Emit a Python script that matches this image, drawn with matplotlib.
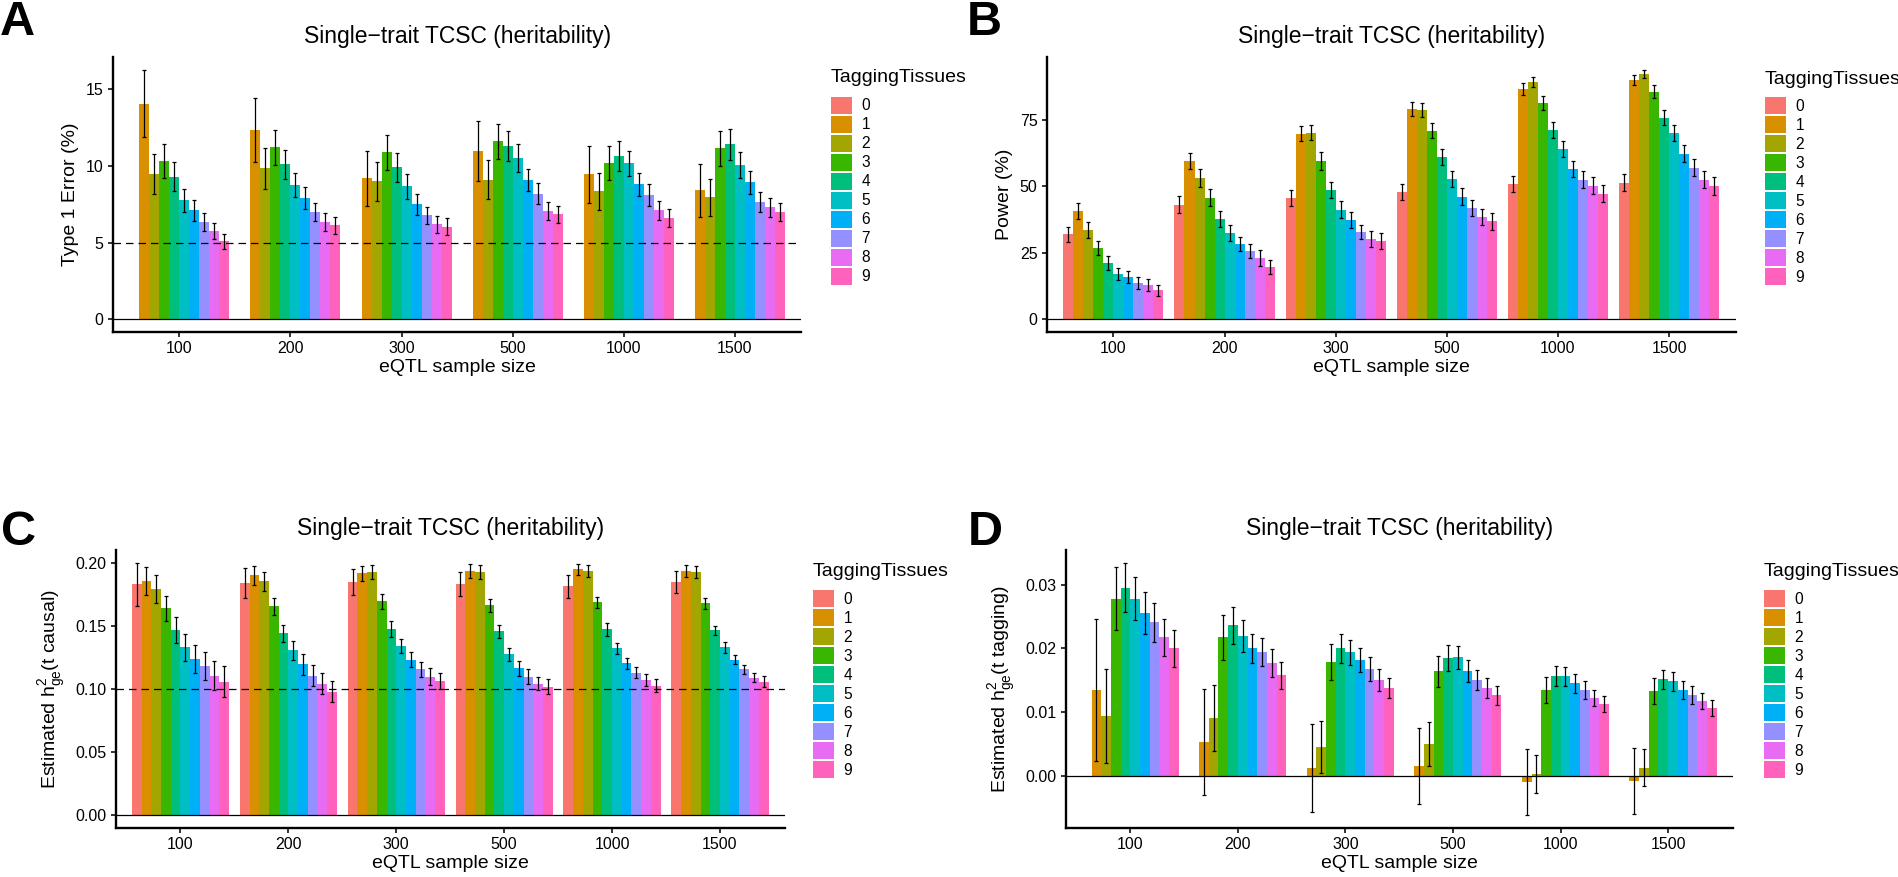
import matplotlib
matplotlib.use("Agg")
import matplotlib.pyplot as plt
import numpy as np
from matplotlib.patches import Patch
from matplotlib.ticker import FormatStrFormatter

plt.rcParams["font.family"] = ["Liberation Sans", "DejaVu Sans"]

sample_sizes = ["100", "200", "300", "500", "1000", "1500"]
tissues = ["0", "1", "2", "3", "4", "5", "6", "7", "8", "9"]
palette = ["#F8766D", "#D89000", "#A3A500", "#39B600", "#00BF7D",
           "#00BFC4", "#00B0F6", "#9590FF", "#E76BF3", "#FF62BC"]
nan = float("nan")

# rows: tagging tissues 0..9, columns: eQTL sample size
type1_error = [
    [nan, nan, nan, nan, nan, nan],
    [14.07, 12.33, 9.20, 10.96, 9.46, 8.41],
    [9.46, 9.85, 9.00, 9.10, 8.35, 7.96],
    [10.30, 11.22, 10.90, 11.60, 10.17, 11.15],
    [9.30, 10.10, 9.90, 11.28, 10.63, 11.41],
    [7.76, 8.74, 8.67, 10.50, 10.17, 10.04],
    [7.10, 7.90, 7.50, 9.07, 8.80, 8.93],
    [6.33, 6.98, 6.78, 8.20, 8.09, 7.63],
    [5.74, 6.33, 6.20, 7.04, 7.10, 7.30],
    [5.09, 6.13, 6.04, 6.85, 6.59, 6.98],
]
type1_error_se = [
    [nan, nan, nan, nan, nan, nan],
    [2.2, 2.1, 1.8, 1.96, 1.85, 1.74],
    [1.3, 1.33, 1.27, 1.28, 1.2, 1.2],
    [1.1, 1.15, 1.14, 1.12, 1.12, 1.15],
    [0.93, 0.95, 0.93, 0.98, 0.99, 1.02],
    [0.75, 0.78, 0.83, 0.9, 0.82, 0.84],
    [0.68, 0.72, 0.7, 0.7, 0.75, 0.73],
    [0.6, 0.6, 0.57, 0.68, 0.7, 0.66],
    [0.52, 0.57, 0.56, 0.6, 0.62, 0.6],
    [0.5, 0.55, 0.54, 0.55, 0.57, 0.58],
]

power = [
    [31.9, 43.0, 45.6, 47.9, 50.9, 51.3],
    [40.7, 59.5, 69.7, 79.1, 86.7, 90.1],
    [33.5, 53.1, 70.1, 78.8, 89.3, 92.3],
    [26.8, 45.6, 59.5, 70.9, 81.4, 85.6],
    [21.1, 37.6, 48.5, 61.1, 71.2, 75.8],
    [17.0, 32.4, 41.1, 52.8, 64.1, 70.1],
    [15.8, 28.3, 37.3, 46.0, 56.5, 62.2],
    [13.6, 25.6, 32.8, 41.8, 52.4, 56.9],
    [12.8, 23.0, 30.2, 38.4, 50.1, 52.4],
    [10.9, 19.6, 29.4, 36.9, 47.1, 50.1],
]
power_se = [
    [2.9, 3.2, 3.0, 3.1, 3.0, 3.2],
    [3.1, 3.0, 2.8, 2.6, 2.2, 1.9],
    [3.1, 3.3, 2.8, 2.6, 1.9, 1.5],
    [2.8, 3.2, 3.2, 2.7, 2.6, 2.45],
    [2.6, 3.1, 3.0, 2.95, 3.0, 2.85],
    [2.3, 2.9, 3.2, 3.0, 3.0, 2.9],
    [2.3, 2.8, 3.1, 3.2, 3.0, 3.2],
    [2.2, 2.6, 2.8, 3.0, 3.2, 3.2],
    [2.2, 2.9, 3.1, 3.1, 3.2, 3.2],
    [2.0, 2.7, 3.0, 3.2, 3.2, 3.4],
]

h2_causal = [
    [0.1830, 0.1838, 0.1846, 0.1830, 0.1814, 0.1846],
    [0.1854, 0.1900, 0.1918, 0.1934, 0.1950, 0.1934],
    [0.1790, 0.1854, 0.1926, 0.1926, 0.1934, 0.1926],
    [0.1640, 0.1655, 0.1695, 0.1663, 0.1687, 0.1679],
    [0.1470, 0.1440, 0.1472, 0.1456, 0.1472, 0.1464],
    [0.1330, 0.1305, 0.1337, 0.1273, 0.1321, 0.1329],
    [0.1240, 0.1194, 0.1233, 0.1162, 0.1202, 0.1233],
    [0.1178, 0.1106, 0.1154, 0.1098, 0.1130, 0.1154],
    [0.1106, 0.1042, 0.1098, 0.1042, 0.1074, 0.1090],
    [0.1058, 0.0979, 0.1066, 0.1019, 0.1027, 0.1058],
]
h2_causal_se = [
    [0.0171, 0.0119, 0.0103, 0.0095, 0.0090, 0.0085],
    [0.0110, 0.0074, 0.0060, 0.0054, 0.0044, 0.0045],
    [0.0109, 0.0076, 0.0058, 0.0058, 0.0045, 0.0045],
    [0.0100, 0.0068, 0.0060, 0.0052, 0.0044, 0.0044],
    [0.0103, 0.0069, 0.0064, 0.0052, 0.0049, 0.0037],
    [0.0107, 0.0074, 0.0056, 0.0050, 0.0042, 0.0041],
    [0.0111, 0.0080, 0.0057, 0.0057, 0.0046, 0.0037],
    [0.0111, 0.0082, 0.0060, 0.0056, 0.0046, 0.0038],
    [0.0115, 0.0082, 0.0066, 0.0052, 0.0048, 0.0038],
    [0.0122, 0.0084, 0.0064, 0.0056, 0.0048, 0.0042],
]

h2_tagging = [
    [nan, nan, nan, nan, nan, nan],
    [0.01344, 0.00531, 0.00125, 0.00156, -0.00094, -0.00078],
    [0.00938, 0.00906, 0.00453, 0.00500, 0.00031, 0.00125],
    [0.02780, 0.02172, 0.01781, 0.01641, 0.01344, 0.01328],
    [0.02953, 0.02359, 0.02000, 0.01844, 0.01563, 0.01516],
    [0.02780, 0.02188, 0.01938, 0.01859, 0.01563, 0.01484],
    [0.02547, 0.02000, 0.01813, 0.01641, 0.01453, 0.01344],
    [0.02406, 0.01938, 0.01672, 0.01500, 0.01344, 0.01266],
    [0.02172, 0.01766, 0.01500, 0.01375, 0.01219, 0.01172],
    [0.02000, 0.01578, 0.01375, 0.01266, 0.01125, 0.01063],
]
h2_tagging_se = [
    [nan, nan, nan, nan, nan, nan],
    [0.0111, 0.0083, 0.0069, 0.0059, 0.0052, 0.0052],
    [0.0074, 0.0052, 0.0041, 0.0034, 0.0030, 0.0029],
    [0.0050, 0.0035, 0.0028, 0.0024, 0.0020, 0.0020],
    [0.0039, 0.0029, 0.0023, 0.0020, 0.0016, 0.0015],
    [0.0034, 0.0025, 0.0020, 0.0018, 0.0015, 0.0015],
    [0.0033, 0.0023, 0.0019, 0.0017, 0.0015, 0.0014],
    [0.0030, 0.0022, 0.0019, 0.0016, 0.0014, 0.0014],
    [0.0029, 0.0022, 0.0017, 0.0016, 0.0012, 0.0012],
    [0.0029, 0.0021, 0.0016, 0.0015, 0.0013, 0.0012],
]

W, H = 1899, 877
TITLE = "Single\u2212trait TCSC (heritability)"


def px_rect(left, top, right, bottom):
    return [left / W, 1 - bottom / H, (right - left) / W, (bottom - top) / H]


def bar_panel(fig, rect, means, errs, ylabel, yticks, fmt, ref=None):
    ax = fig.add_axes(rect)
    means = np.array(means, dtype=float)
    errs = np.array(errs, dtype=float)
    cats = np.arange(1, len(sample_sizes) + 1)
    width = 0.9 / len(tissues)
    for k in range(len(tissues)):
        if np.all(np.isnan(means[k])):
            continue
        x = cats + (k - (len(tissues) - 1) / 2) * width
        ax.bar(x, means[k], width=width, color=palette[k], linewidth=0)
        ax.errorbar(x, means[k], yerr=errs[k], fmt="none", ecolor="black",
                    elinewidth=0.9, capsize=1.4, capthick=0.9)
    ax.axhline(0, color="black", lw=0.9)
    if ref is not None:
        ax.axhline(ref, color="black", lw=0.9, linestyle=(0, (6, 4)))
    lo = min(0, np.nanmin(means - errs))
    hi = np.nanmax(means + errs)
    span = hi - lo
    ax.set_ylim(lo - 0.05 * span, hi + 0.05 * span)
    ax.set_xlim(0.4, len(sample_sizes) + 0.6)
    ax.set_xticks(cats, sample_sizes)
    ax.set_yticks(yticks)
    ax.yaxis.set_major_formatter(FormatStrFormatter(fmt))
    for side in ("top", "right"):
        ax.spines[side].set_visible(False)
    for side in ("left", "bottom"):
        ax.spines[side].set_linewidth(1.7)
    ax.tick_params(length=3.8, width=1.4, color="#333333", labelsize=11.5, pad=2.9)
    ax.set_xlabel("eQTL sample size", fontsize=14, labelpad=2)
    ax.set_ylabel(ylabel, fontsize=14, labelpad=5)
    ax.set_title(TITLE, fontsize=16.5, pad=10.5)
    return ax


def tissue_legend(fig, key_left, key_top, title_y):
    handles = [Patch(facecolor=c, edgecolor="none") for c in palette]
    fig.legend(handles, tissues, loc="upper left",
               bbox_to_anchor=(key_left / W, 1 - key_top / H),
               frameon=False, fontsize=11.2, handlelength=1.37, handleheight=1.31,
               labelspacing=0.125, handletextpad=0.6, borderpad=0, borderaxespad=0)
    fig.text(key_left / W, 1 - title_y / H, "TaggingTissues", fontsize=14, va="center")


fig = plt.figure(figsize=(W / 100, H / 100), dpi=100)

bar_panel(fig, px_rect(112.7, 57.3, 801.5, 331.7), type1_error, type1_error_se,
          "Type 1 Error (%)", [0, 5, 10, 15], "%g", ref=5)
bar_panel(fig, px_rect(1046.7, 57.3, 1735.7, 331.7), power, power_se,
          "Power (%)", [0, 25, 50, 75], "%g")
bar_panel(fig, px_rect(115.7, 550, 784.7, 827.7), h2_causal, h2_causal_se,
          r"Estimated h$_{\mathregular{ge}}^{\mathregular{2}}$(t causal)",
          [0, 0.05, 0.10, 0.15, 0.20], "%.2f", ref=0.1)
bar_panel(fig, px_rect(1065.7, 550, 1732.7, 827.7), h2_tagging, h2_tagging_se,
          r"Estimated h$_{\mathregular{ge}}^{\mathregular{2}}$(t tagging)",
          [0, 0.01, 0.02, 0.03], "%.2f")

tissue_legend(fig, 831, 96.7, 78)
tissue_legend(fig, 1765, 97.3, 79)
tissue_legend(fig, 813, 590, 571.7)
tissue_legend(fig, 1764, 590, 571.7)

for letter, x, y in [("A", 0, 35), ("B", 967, 35), ("C", 1, 545), ("D", 968, 545)]:
    fig.text(x / W, 1 - y / H, letter, fontsize=35, fontweight="bold", va="baseline")

fig.savefig("out.png", dpi=100)
